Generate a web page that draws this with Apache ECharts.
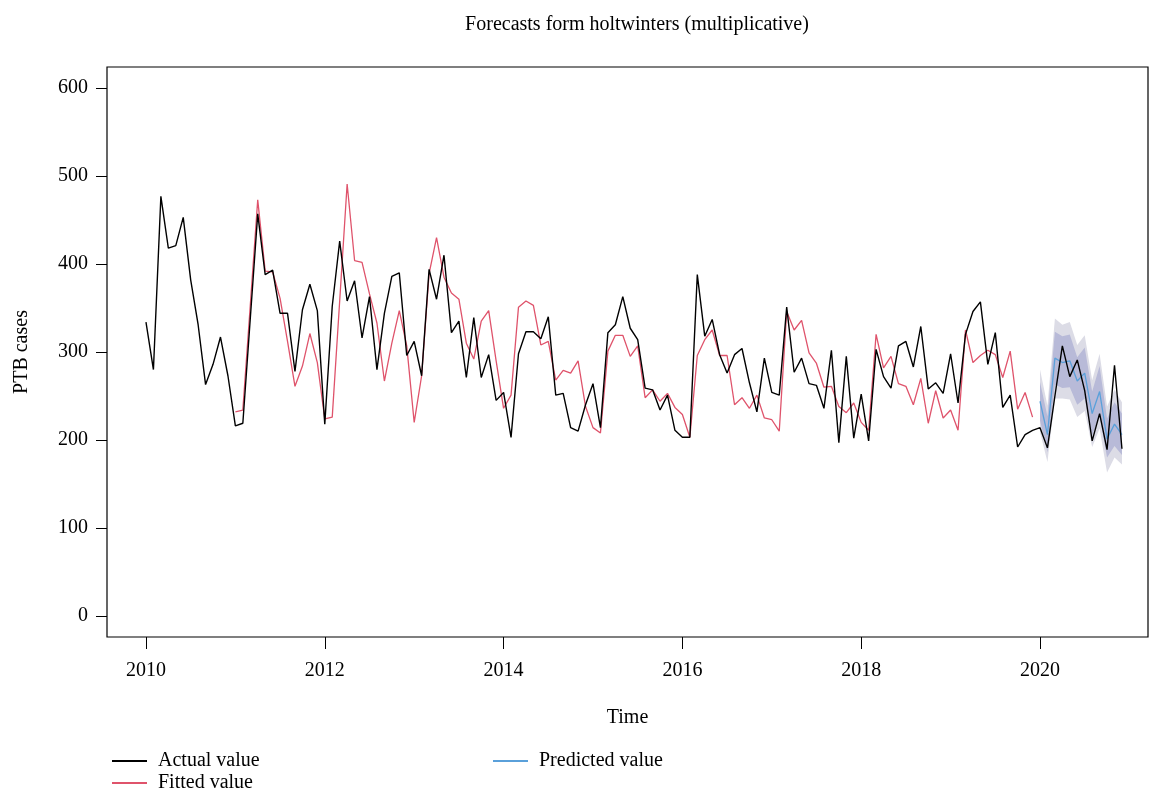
<!DOCTYPE html>
<html>
<head>
<meta charset="utf-8">
<script src="https://cdn.jsdelivr.net/npm/echarts@6/dist/echarts.min.js"></script>
<style>
html,body{margin:0;padding:0;background:#fff;}
#main{width:1150px;height:791px;}
</style>
</head>
<body>
<div id="main"></div>
<script>
// Monthly values, January 2010 onwards
var startYear = 2010;
var actual = [
  334, 280, 477, 418, 421, 453, 382, 331, 263, 286, 317, 273,
  216, 219, 338, 457, 388, 393, 344, 344, 278, 348, 377, 347,
  218, 352, 426, 358, 381, 316, 363, 280, 344, 386, 390, 296,
  312, 273, 394, 360, 410, 322, 335, 271, 339, 271, 297, 245,
  254, 203, 298, 323, 323, 315, 340, 251, 253, 214, 210, 240,
  264, 214, 322, 331, 363, 327, 314, 259, 257, 234, 251, 211,
  203, 203, 388, 318, 337, 297, 276, 297, 304, 265, 232, 293,
  254, 251, 351, 277, 293, 264, 262, 236, 302, 197, 295, 202,
  252, 199, 303, 272, 259, 307, 312, 283, 329, 258, 265, 253,
  298, 242, 320, 346, 357, 286, 322, 237, 251, 192, 206, 211,
  214, 191, 250, 307, 272, 291, 256, 199, 230, 189, 285, 190
];
// Fitted values, January 2011 to December 2019
var fittedStart = 12;
var fitted = [
  232, 234, 353, 473, 392, 391, 361, 312, 261, 284, 321, 288,
  224, 226, 358, 491, 404, 402, 366, 333, 267, 310, 347, 307,
  220, 273, 389, 430, 385, 367, 360, 310, 292, 335, 347, 290,
  236, 251, 351, 358, 353, 308, 312, 268, 279, 276, 290, 238,
  214, 208, 301, 319, 319, 295, 307, 248, 257, 244, 253, 237,
  229, 203, 296, 314, 325, 296, 296, 240, 248, 236, 251, 225,
  223, 210, 346, 325, 336, 299, 287, 260, 261, 238, 231, 242,
  220, 211, 320, 282, 295, 264, 261, 240, 270, 219, 256, 225,
  234, 211, 325, 288, 296, 302, 297, 271, 301, 235, 254, 226
];
// Forecast, January 2020 to December 2020
var predStart = 120;
var predicted = [244, 206, 293, 288, 290, 267, 276, 230, 255, 201, 218, 206];
var lo80 = [222, 186, 263, 259, 260, 240, 247, 205, 227, 180, 193, 183];
var hi80 = [266, 227, 323, 318, 320, 294, 305, 255, 284, 224, 243, 230];
var lo95 = [209, 175, 247, 247, 246, 226, 233, 192, 213, 163, 180, 172];
var hi95 = [280, 239, 338, 331, 334, 308, 319, 268, 298, 238, 257, 243];

var xTicks = [2010, 2012, 2014, 2016, 2018, 2020];
var yTicks = [0, 100, 200, 300, 400, 500, 600];

function t(i){ return startYear + i / 12; }
function pairs(arr, offset){ return arr.map(function(v, k){ return [t(offset + k), v]; }); }
function bandData(lo, hi, offset){ return lo.map(function(v, k){ return [t(offset + k), v, hi[k]]; }); }

// Draws the whole band polygon once, through the axis scales
function bandRenderer(color){
  return function(params, api){
    if (params.dataIndex !== 0) return null;
    var n = params.dataInsideLength;
    var upper = [], lower = [];
    for (var j = 0; j < n; j++) {
      var x = api.value(0, j);
      upper.push(api.coord([x, api.value(2, j)]));
      lower.push(api.coord([x, api.value(1, j)]));
    }
    var pts = upper.concat(lower.reverse());
    return {type: 'polygon', shape: {points: pts}, style: {fill: color, stroke: null}, silent: true};
  };
}

var FONT = 'Liberation Serif';
var legendText = {fontFamily: FONT, fontSize: 20, color: '#000', padding: [0, 0, 0, 6]};
var chart = echarts.init(document.getElementById('main'), null, {renderer: 'canvas'});
chart.setOption({
  animation: false,
  backgroundColor: '#ffffff',
  title: {
    text: 'Forecasts form holtwinters (multiplicative)',
    left: 632, top: 10, textAlign: 'center',
    textStyle: {fontFamily: FONT, fontSize: 20, fontWeight: 'normal', color: '#000'}
  },
  legend: [
    {left: 112, top: 751, padding: 0, itemWidth: 35, itemHeight: 2, icon: 'rect',
      data: ['Actual value'], textStyle: legendText},
    {left: 112, top: 773, padding: 0, itemWidth: 35, itemHeight: 2, icon: 'rect',
      data: ['Fitted value'], textStyle: legendText},
    {left: 493, top: 751, padding: 0, itemWidth: 35, itemHeight: 2, icon: 'rect',
      data: ['Predicted value'], textStyle: legendText}
  ],
  grid: {
    left: 107, right: 2, top: 67, bottom: 154,
    show: true, borderColor: '#000', borderWidth: 1.2, backgroundColor: 'transparent',
    containLabel: false, outerBoundsMode: 'none'
  },
  xAxis: {
    type: 'value', min: 2009.564, max: 2021.208,
    splitLine: {show: false},
    axisLine: {show: false, onZero: false},
    axisTick: {show: true, inside: false, length: 12, customValues: xTicks, lineStyle: {color: '#000', width: 1}},
    axisLabel: {customValues: xTicks, margin: 24, fontFamily: FONT, fontSize: 20, color: '#000',
      formatter: function(v){ return String(Math.round(v)); }},
    name: 'Time', nameLocation: 'middle', nameGap: 71,
    nameTextStyle: {fontFamily: FONT, fontSize: 20, color: '#000'}
  },
  yAxis: {
    type: 'value', min: -24, max: 624,
    splitLine: {show: false},
    axisLine: {show: false, onZero: false},
    axisTick: {show: true, inside: false, length: 11, customValues: yTicks, lineStyle: {color: '#000', width: 1}},
    axisLabel: {customValues: yTicks, margin: 19, fontFamily: FONT, fontSize: 20, color: '#000', padding: [4, 0, 0, 0]},
    name: 'PTB cases', nameLocation: 'middle', nameGap: 75, nameRotate: 90,
    nameTextStyle: {fontFamily: FONT, fontSize: 20, color: '#000'}
  },
  series: [
    {name: 'band95', type: 'custom', data: bandData(lo95, hi95, predStart),
      encode: {x: 0, y: [1, 2]}, renderItem: bandRenderer('#dcdce6'), silent: true, z: 1},
    {name: 'band80', type: 'custom', data: bandData(lo80, hi80, predStart),
      encode: {x: 0, y: [1, 2]}, renderItem: bandRenderer('#b8bad8'), silent: true, z: 2},
    {name: 'Predicted value', type: 'line', data: pairs(predicted, predStart), symbol: 'none',
      color: '#5aa0da', lineStyle: {color: '#5aa0da', width: 1.3}, z: 3},
    {name: 'Fitted value', type: 'line', data: pairs(fitted, fittedStart), symbol: 'none',
      color: '#df536b', lineStyle: {color: '#df536b', width: 1.3}, z: 4},
    {name: 'Actual value', type: 'line', data: pairs(actual, 0), symbol: 'none',
      color: '#000000', lineStyle: {color: '#000000', width: 1.4}, z: 5}
  ]
});
</script>
</body>
</html>
